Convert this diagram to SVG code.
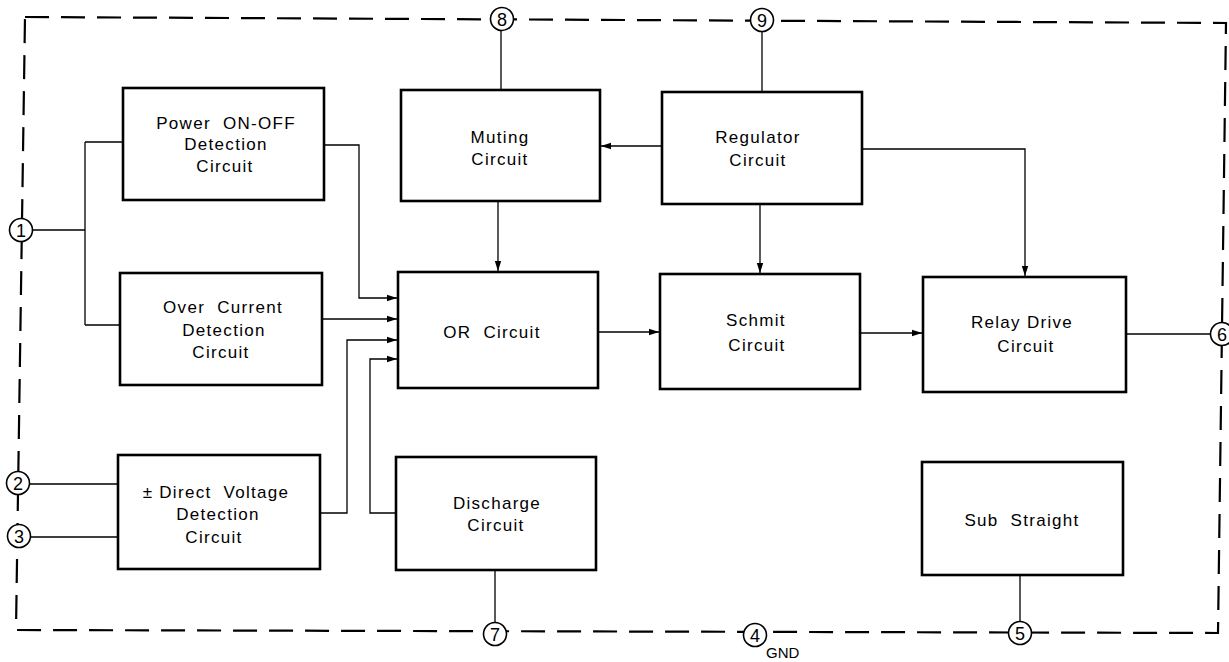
<svg xmlns="http://www.w3.org/2000/svg" width="1229" height="662" viewBox="0 0 1229 662">
<defs>
<marker id="ah" viewBox="0 0 10 8" refX="10" refY="4" markerWidth="10" markerHeight="8" markerUnits="userSpaceOnUse" orient="auto">
<path d="M0,0.8 L10,4 L0,7.2 Z" fill="#000"/>
</marker>
<style>
.box{fill:#fff;stroke:#000;stroke-width:2.6}
.t{font-family:"Liberation Sans",Arial,sans-serif;font-size:17px;letter-spacing:1.3px;text-anchor:middle;fill:#000}
.c{fill:none;stroke:#000;stroke-width:1.3}
.a{marker-end:url(#ah)}
.pin{fill:#fff;stroke:#000;stroke-width:1.6}
.pn{font-family:"Liberation Sans",Arial,sans-serif;font-size:18px;text-anchor:middle;fill:#000}
.frame{fill:none;stroke:#000;stroke-width:2.2;stroke-dasharray:24 12}
</style>
</defs>
<rect width="1229" height="662" fill="#fff"/>
<path class="frame" d="M25,17 L1226,23 L1218,633 L16,630 Z"/>

<g id="connectors">
<path class="c" d="M33,230 H85 M85,142 V325 M85,142 H123 M85,325 H120"/>
<path class="c a" d="M324,145 H359 V298 H397"/>
<path class="c a" d="M322,319 H397"/>
<path class="c a" d="M320,513 H347 V340 H397"/>
<path class="c a" d="M396,513 H370 V359 H397"/>
<path class="c" d="M30,484 H118 M31,537 H118"/>
<path class="c" d="M501,31 V90 M762,32 V92"/>
<path class="c a" d="M662,146 H601"/>
<path class="c a" d="M498,201 V271"/>
<path class="c a" d="M760,204 V273"/>
<path class="c a" d="M862,149 H1025 V276"/>
<path class="c a" d="M598,332 H659"/>
<path class="c a" d="M860,333 H922"/>
<path class="c" d="M1126,334 H1210"/>
<path class="c" d="M495,570 V622 M1020,575 V621"/>
</g>

<g id="power"><rect class="box" x="123" y="88" width="201" height="112"/>
<text class="t" x="226" y="129" xml:space="preserve">Power  ON-OFF</text><text class="t" x="226" y="150">Detection</text><text class="t" x="225" y="172">Circuit</text></g>
<g id="muting"><rect class="box" x="401" y="90" width="199" height="111"/>
<text class="t" x="500" y="143">Muting</text><text class="t" x="500" y="165">Circuit</text></g>
<g id="regulator"><rect class="box" x="662" y="92" width="200" height="112"/>
<text class="t" x="758" y="143">Regulator</text><text class="t" x="758" y="166">Circuit</text></g>
<g id="overcurrent"><rect class="box" x="120" y="273" width="202" height="112"/>
<text class="t" x="223" y="313" xml:space="preserve">Over  Current</text><text class="t" x="224" y="336">Detection</text><text class="t" x="221" y="358">Circuit</text></g>
<g id="or"><rect class="box" x="398" y="272" width="200" height="116"/>
<text class="t" x="492" y="338" xml:space="preserve">OR  Circuit</text></g>
<g id="schmit"><rect class="box" x="660" y="274" width="200" height="115"/>
<text class="t" x="756" y="326">Schmit</text><text class="t" x="757" y="351">Circuit</text></g>
<g id="relay"><rect class="box" x="923" y="277" width="203" height="115"/>
<text class="t" x="1022" y="328">Relay Drive</text><text class="t" x="1026" y="352">Circuit</text></g>
<g id="direct"><rect class="box" x="118" y="455" width="202" height="114"/>
<text class="t" x="216" y="498" xml:space="preserve">± Direct  Voltage</text><text class="t" x="218" y="520">Detection</text><text class="t" x="214" y="543">Circuit</text></g>
<g id="discharge"><rect class="box" x="396" y="457" width="200" height="113"/>
<text class="t" x="497" y="509">Discharge</text><text class="t" x="496" y="531">Circuit</text></g>
<g id="substraight"><rect class="box" x="922" y="462" width="201" height="113"/>
<text class="t" x="1022" y="526" xml:space="preserve">Sub  Straight</text></g>

<g id="pin1"><circle class="pin" cx="21" cy="230" r="11.5"/><text class="pn" x="21" y="236.5">1</text></g>
<g id="pin2"><circle class="pin" cx="18" cy="483" r="11.5"/><text class="pn" x="18" y="489.5">2</text></g>
<g id="pin3"><circle class="pin" cx="19" cy="536" r="11.5"/><text class="pn" x="19" y="542.5">3</text></g>
<g id="pin8"><circle class="pin" cx="502" cy="19" r="11.5"/><text class="pn" x="502" y="25.5">8</text></g>
<g id="pin9"><circle class="pin" cx="762" cy="20" r="11.5"/><text class="pn" x="762" y="26.5">9</text></g>
<g id="pin6"><circle class="pin" cx="1222" cy="334" r="11.5"/><text class="pn" x="1222" y="340.5">6</text></g>
<g id="pin7"><circle class="pin" cx="495" cy="634" r="11.5"/><text class="pn" x="495" y="640.5">7</text></g>
<g id="pin4"><circle class="pin" cx="755" cy="635" r="11.5"/><text class="pn" x="755" y="641.5">4</text>
<text x="766" y="658" font-family="Liberation Sans, Arial, sans-serif" font-size="15" fill="#000">GND</text></g>
<g id="pin5"><circle class="pin" cx="1020" cy="633" r="11.5"/><text class="pn" x="1020" y="639.5">5</text></g>
</svg>
